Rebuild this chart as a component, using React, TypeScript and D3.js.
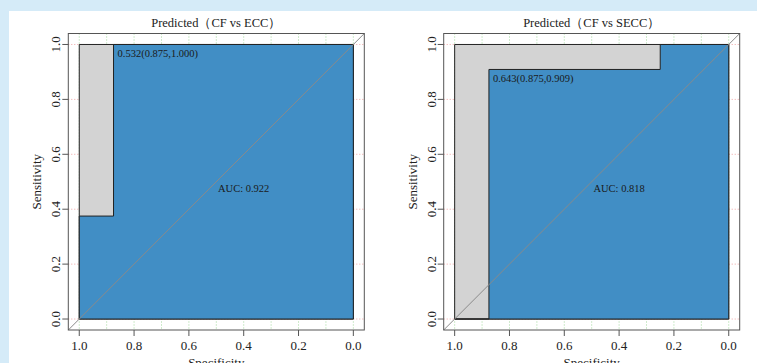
import { useEffect, useRef } from "react";
import * as d3 from "d3";

// ROC data (specificity, sensitivity)
const eccSpec = [1, 1, 0.875, 0.875, 0];
const eccSens = [0, 0.375, 0.375, 1, 1];
const seccSpec = [1, 0.875, 0.875, 0.25, 0.25, 0];
const seccSens = [0, 0, 0.909, 0.909, 1, 1];

const titles = ["Predicted（CF vs ECC）", "Predicted（CF vs SECC）"];
const aucValues = [0.922, 0.818];
const thresholds = ["0.532", "0.643"];
const bestSpec = [0.875, 0.875];
const bestSens = [1.0, 0.909];

const axisTicks = [1.0, 0.8, 0.6, 0.4, 0.2, 0.0];
const gridX = d3.range(0, 11).map((i) => i / 10);
const gridY = d3.range(0, 6).map((i) => i / 5);

const WIDTH = 757;
const HEIGHT = 363;
const FONT = "'Liberation Serif', 'Times New Roman', serif";

type Panel = {
    left: number;
    right: number;
    spec: number[];
    sens: number[];
    title: string;
    auc: number;
    thr: string;
    bs: number;
    bsens: number;
};

const App = () => {
    const svgRef = useRef<SVGSVGElement>(null);

    useEffect(() => {
        if (!svgRef.current) return;
        const svg = d3.select(svgRef.current);
        svg.selectAll("*").remove();

        // page background + white card
        svg.append("rect").attr("width", WIDTH).attr("height", HEIGHT).attr("fill", "#d5ebf8");
        svg.append("rect").attr("x", 9).attr("y", 11).attr("width", WIDTH - 9).attr("height", HEIGHT - 11).attr("fill", "#ffffff");

        const panels: Panel[] = [
            { left: 68.3, right: 364.3, spec: eccSpec, sens: eccSens, title: titles[0], auc: aucValues[0], thr: thresholds[0], bs: bestSpec[0], bsens: bestSens[0] },
            { left: 443.7, right: 739.7, spec: seccSpec, sens: seccSens, title: titles[1], auc: aucValues[1], thr: thresholds[1], bs: bestSpec[1], bsens: bestSens[1] },
        ];

        const top = 33.5;
        const bottom = 330;

        panels.forEach((p) => {
            const x = d3.scaleLinear().domain([1.04, -0.04]).range([p.left, p.right]);
            const y = d3.scaleLinear().domain([-0.04, 1.04]).range([bottom, top]);
            const g = svg.append("g");

            // grid
            g.selectAll(".gx")
                .data(gridX)
                .join("line")
                .attr("x1", (d) => x(d))
                .attr("x2", (d) => x(d))
                .attr("y1", top)
                .attr("y2", bottom)
                .attr("stroke", "#9fd79a")
                .attr("stroke-width", 1)
                .attr("stroke-dasharray", "1,2");
            g.selectAll(".gy")
                .data(gridY)
                .join("line")
                .attr("x1", p.left)
                .attr("x2", p.right)
                .attr("y1", (d) => y(d))
                .attr("y2", (d) => y(d))
                .attr("stroke", "#eea3a3")
                .attr("stroke-width", 1)
                .attr("stroke-dasharray", "1,2");

            // max auc polygon (grey)
            const square: [number, number][] = [[1, 0], [1, 1], [0, 1], [0, 0]];
            const line = d3
                .line<[number, number]>()
                .x((d) => x(d[0]))
                .y((d) => y(d[1]));
            g.append("path")
                .attr("d", line(square) + "Z")
                .attr("fill", "#d3d3d3")
                .attr("stroke", "#222")
                .attr("stroke-width", 1);

            // auc polygon (blue)
            const curve: [number, number][] = p.spec.map((s, i) => [s, p.sens[i]]);
            const poly: [number, number][] = [...curve, [0, 0]];
            g.append("path")
                .attr("d", line(poly) + "Z")
                .attr("fill", "#418ec5")
                .attr("stroke", "#222")
                .attr("stroke-width", 1);

            // diagonal reference line
            g.append("line")
                .attr("x1", p.left)
                .attr("y1", bottom)
                .attr("x2", p.right)
                .attr("y2", top)
                .attr("stroke", "#8a8a8a")
                .attr("stroke-width", 1);

            // frame
            g.append("rect")
                .attr("x", p.left)
                .attr("y", top)
                .attr("width", p.right - p.left)
                .attr("height", bottom - top)
                .attr("fill", "none")
                .attr("stroke", "#555")
                .attr("stroke-width", 1);

            // x axis
            const xAxis = g.append("g").attr("font-family", FONT).attr("font-size", 13).attr("fill", "#222");
            xAxis
                .selectAll("line")
                .data(axisTicks)
                .join("line")
                .attr("x1", (d) => x(d))
                .attr("x2", (d) => x(d))
                .attr("y1", bottom)
                .attr("y2", bottom + 6)
                .attr("stroke", "#555");
            xAxis
                .selectAll("text")
                .data(axisTicks)
                .join("text")
                .attr("x", (d) => x(d))
                .attr("y", bottom + 20)
                .attr("text-anchor", "middle")
                .text((d) => d.toFixed(1));

            // y axis
            const yAxis = g.append("g").attr("font-family", FONT).attr("font-size", 13).attr("fill", "#222");
            yAxis
                .selectAll("line")
                .data(axisTicks)
                .join("line")
                .attr("x1", p.left - 6)
                .attr("x2", p.left)
                .attr("y1", (d) => y(d))
                .attr("y2", (d) => y(d))
                .attr("stroke", "#555");
            yAxis
                .selectAll("text")
                .data(axisTicks)
                .join("text")
                .attr("transform", (d) => `translate(${p.left - 8},${y(d)}) rotate(-90)`)
                .attr("text-anchor", "middle")
                .text((d) => d.toFixed(1));

            // axis titles
            g.append("text")
                .attr("x", (p.left + p.right) / 2)
                .attr("y", bottom + 37)
                .attr("text-anchor", "middle")
                .attr("font-family", FONT)
                .attr("font-size", 13)
                .attr("fill", "#222")
                .text("Specificity");
            g.append("text")
                .attr("transform", `translate(${p.left - 27},${(top + bottom) / 2}) rotate(-90)`)
                .attr("text-anchor", "middle")
                .attr("font-family", FONT)
                .attr("font-size", 13)
                .attr("fill", "#222")
                .text("Sensitivity");

            // title
            g.append("text")
                .attr("x", (p.left + p.right) / 2)
                .attr("y", 27)
                .attr("text-anchor", "middle")
                .attr("font-family", FONT)
                .attr("font-size", 12.5)
                .attr("fill", "#222")
                .text(p.title);

            // threshold label
            g.append("text")
                .attr("x", x(p.bs) + 4)
                .attr("y", y(p.bsens) + 13)
                .attr("font-family", FONT)
                .attr("font-size", 10.5)
                .attr("fill", "#1a1a1a")
                .text(`${p.thr}(${p.bs.toFixed(3)},${p.bsens.toFixed(3)})`);

            // AUC label
            g.append("text")
                .attr("x", x(0.4))
                .attr("y", y(0.475))
                .attr("dy", "0.35em")
                .attr("text-anchor", "middle")
                .attr("font-family", FONT)
                .attr("font-size", 10.5)
                .attr("fill", "#1a1a1a")
                .text(`AUC: ${p.auc.toFixed(3)}`);
        });
    }, []);

    return (
        <svg
            ref={svgRef}
            width={WIDTH}
            height={HEIGHT}
            style={{ position: "absolute", left: 0, top: 0, display: "block" }}
        />
    );
};

export default App;
